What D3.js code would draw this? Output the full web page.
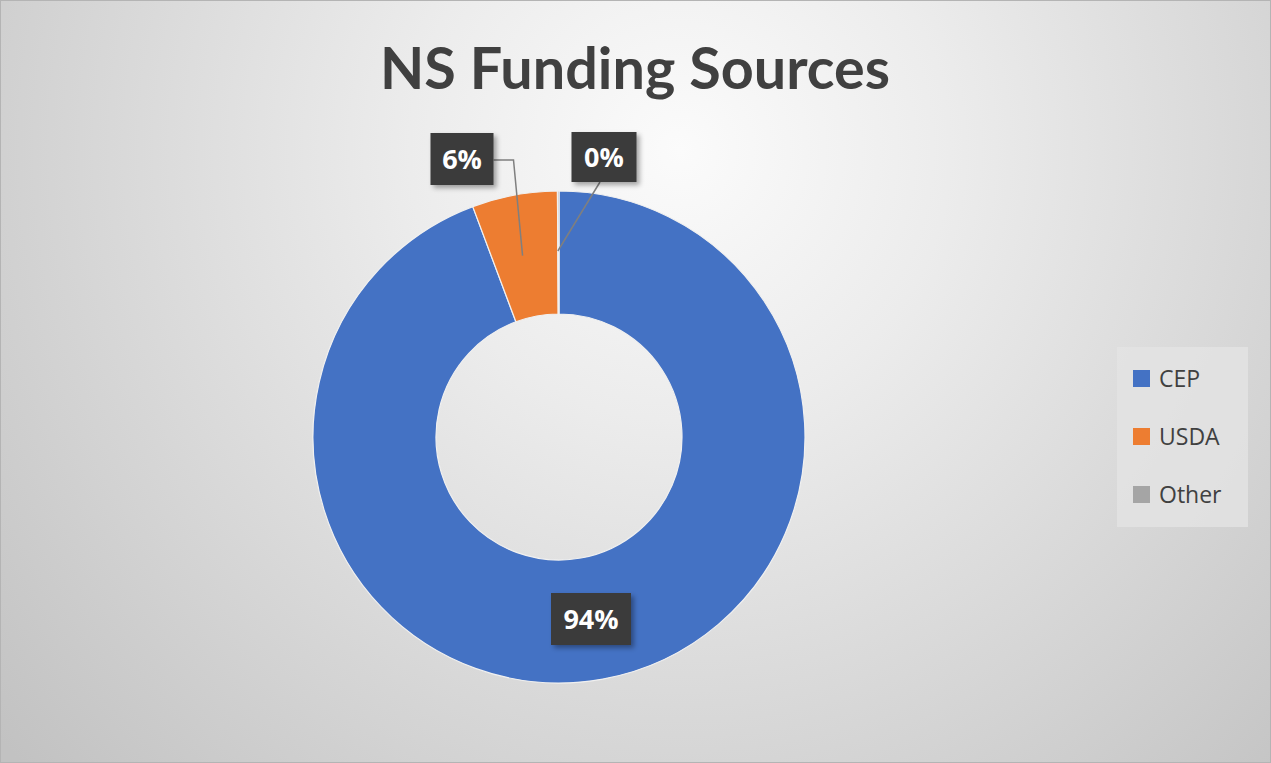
<!DOCTYPE html>
<html><head><meta charset="utf-8">
<script src="https://cdn.jsdelivr.net/npm/d3@7"></script>
<style>html,body{margin:0;padding:0;overflow:hidden;background:#fff}</style>
</head><body><svg id="c" width="1271" height="763"></svg>
<script>
const title = "NS Funding Sources";
const categories = ["CEP", "USDA", "Other"];
const values = [94.3, 5.6, 0.1];
const labels = ["94%", "6%", "0%"];
const colors = ["#4472C4", "#ED7D31", "#A5A5A5"];

const W = 1271, H = 763;
const svg = d3.select("#c");
const defs = svg.append("defs");
const rg = defs.append("radialGradient").attr("id","bg").attr("gradientUnits","userSpaceOnUse")
  .attr("cx", 680).attr("cy", 150).attr("r", 900);
rg.append("stop").attr("offset","0%").attr("stop-color","#fbfbfb");
rg.append("stop").attr("offset","30%").attr("stop-color","#ececec");
rg.append("stop").attr("offset","100%").attr("stop-color","#c2c2c2");
const sh = defs.append("filter").attr("id","sh").attr("x","-20%").attr("y","-20%").attr("width","150%").attr("height","150%");
sh.append("feDropShadow").attr("dx",3).attr("dy",3).attr("stdDeviation",2.5).attr("flood-color","#000").attr("flood-opacity",0.35);

svg.append("rect").attr("x",0).attr("y",0).attr("width",W).attr("height",H).attr("fill","url(#bg)");
svg.append("rect").attr("x",0.5).attr("y",0.5).attr("width",W-1).attr("height",H-1).attr("fill","none").attr("stroke","#b4b4b4");

svg.append("text").attr("x",635).attr("y",89).attr("text-anchor","middle")
  .attr("font-family","Lato, 'Open Sans', sans-serif").attr("font-weight","bold")
  .attr("font-size",58).attr("fill","#404040")
  .attr("textLength",510).attr("lengthAdjust","spacingAndGlyphs").text(title);

const cx = 559, cy = 437, R = 246, r0 = 123;
const data = categories.map((c,i)=>({name:c, value:values[i], label:labels[i], color:colors[i]}));
const pie = d3.pie().sort(null).value(d=>d.value);
const arcs = pie(data);
const arc = d3.arc().innerRadius(r0).outerRadius(R);
const g = svg.append("g").attr("transform",`translate(${cx},${cy})`);
g.selectAll("path").data(arcs).join("path").attr("d",arc)
  .attr("fill",d=>d.data.color).attr("stroke","#f0f0f0").attr("stroke-width",1.2);

// label boxes (centers relative to the chart center) and leader lines
const boxes = [
  {cx: 32, cy: 182, w: 80, h: 52, leader: null},
  {cx: -97, cy: -278, w: 63, h: 52, leader: "elbow"},
  {cx: 45, cy: -280, w: 65, h: 50, leader: "straight"}
];
arcs.forEach((a,i)=>{
  const b = boxes[i];
  const mid = (a.startAngle + a.endAngle)/2;
  const rr = (R + r0)/2;
  const px = Math.sin(mid)*rr, py = -Math.cos(mid)*rr;
  if (b.leader === "elbow") {
    const ex = b.cx + b.w/2;
    g.append("path").attr("d",`M${ex},${b.cy+1}H${ex+20}L${px-3},${py}`)
      .attr("fill","none").attr("stroke","#7f7f7f").attr("stroke-width",1.5);
  } else if (b.leader === "straight") {
    const sx = Math.sin(a.startAngle)*(R-60), sy = -Math.cos(a.startAngle)*(R-60);
    g.append("path").attr("d",`M${b.cx-4},${b.cy+b.h/2}L${sx},${sy}`)
      .attr("fill","none").attr("stroke","#7f7f7f").attr("stroke-width",1.5);
  }
  g.append("rect").attr("x",b.cx-b.w/2).attr("y",b.cy-b.h/2).attr("width",b.w).attr("height",b.h)
    .attr("fill","#3b3b3b").attr("filter","url(#sh)");
  g.append("text").attr("x",b.cx).attr("y",b.cy+10).attr("text-anchor","middle")
    .attr("font-family","'Open Sans', sans-serif").attr("font-weight","bold").attr("font-size",27)
    .attr("fill","#ffffff").text(a.data.label);
});

// legend
const lg = svg.append("g");
lg.append("rect").attr("x",1117).attr("y",347).attr("width",131).attr("height",180).attr("fill","#e3e3e3").attr("opacity",0.8);
const ly = d3.scalePoint().domain(categories).range([378, 494]);
categories.forEach((c,i)=>{
  lg.append("rect").attr("x",1133).attr("y",ly(c)-8).attr("width",17).attr("height",17).attr("fill",colors[i]);
  lg.append("text").attr("x",1159).attr("y",ly(c)+9).attr("font-family","'Open Sans', sans-serif")
    .attr("font-size",23).attr("fill","#404040").text(c);
});
</script></body></html>
